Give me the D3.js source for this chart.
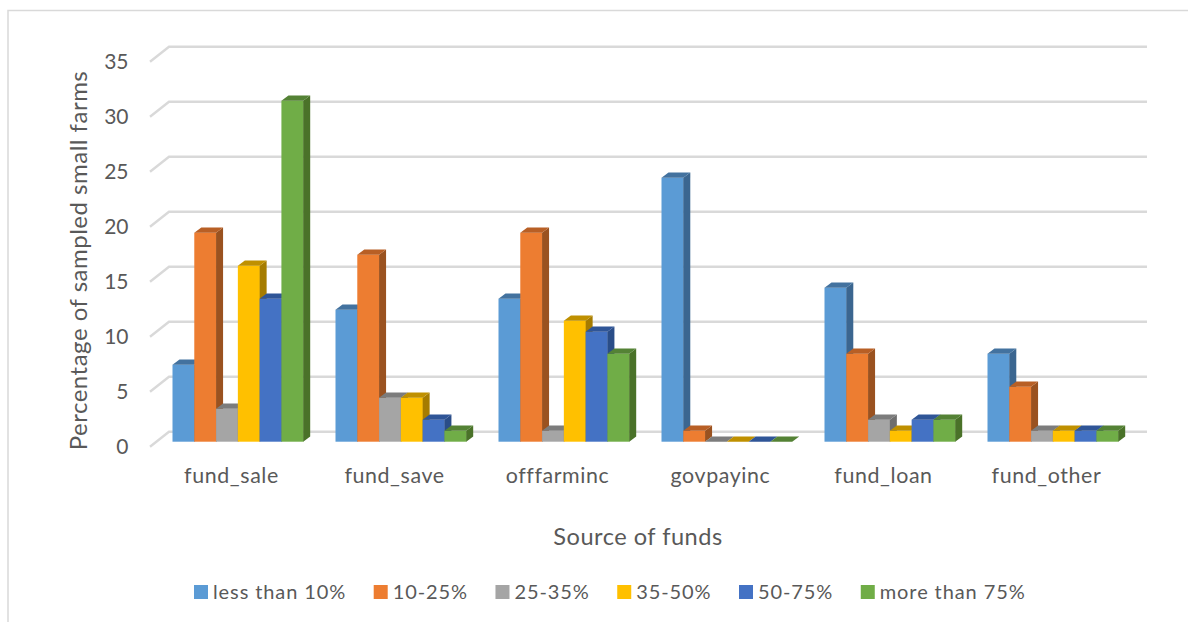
<!DOCTYPE html>
<html>
<head>
<meta charset="utf-8">
<script src="https://cdn.jsdelivr.net/npm/d3@7"></script>
<style>
	html, body { margin: 0; padding: 0; background: #fff; }
	text { font-family: Lato, "Open Sans", sans-serif; fill: #595959; }
	.tick line, .domain { display: none; }
</style>
</head>
<body>
<svg width="1188" height="622"></svg>
<script>
const categories = ["fund_sale", "fund_save", "offfarminc", "govpayinc", "fund_loan", "fund_other"]
const seriesNames = ["less than 10%", "10-25%", "25-35%", "35-50%", "50-75%", "more than 75%"]
const lessThan10 = [7, 12, 13, 24, 14, 8]
const from10to25 = [19, 17, 19, 1, 8, 5]
const from25to35 = [3, 4, 1, 0, 2, 1]
const from35to50 = [16, 4, 11, 0, 1, 1]
const from50to75 = [13, 2, 10, 0, 2, 1]
const moreThan75 = [31, 1, 8, 0, 2, 1]
const seriesValues = [lessThan10, from10to25, from25to35, from35to50, from50to75, moreThan75]
const yTicks = [0, 5, 10, 15, 20, 25, 30, 35]

const frontColors = ["#5b9bd5", "#ed7d31", "#a5a5a5", "#ffc000", "#4472c4", "#70ad47"]
const topColors = ["#43729f", "#b85f25", "#7c7c7c", "#bf9000", "#2f5597", "#548235"]
const sideColors = ["#3b6690", "#9a5220", "#6e6e6e", "#a67c00", "#2a4d88", "#4a7229"]

const svg = d3.select("svg")

// chart frame, only top and left edges are in the crop
svg.append("path")
	.attr("d", "M8,622V10.5H1188")
	.attr("fill", "none")
	.attr("stroke", "#d9d9d9")
	.attr("stroke-width", 1.5)

const frontLeft = 150, frontRight = 1128
const depthX = 19, depthY = 15 // floor depth
const barDepthX = 7, barDepthY = 5.3
const barInset = 22.5

const x = d3.scaleBand().domain(categories).range([frontLeft, frontRight])
const xBar = d3.scaleBand().domain(d3.range(seriesNames.length)).range([0, 130.7])
const y = d3.scaleLinear().domain([0, 35]).range([441.7, 56.7]) // front face of the bars

// gridlines run along the side wall and the back wall
svg.append("g").selectAll("path")
	.data(yTicks)
	.enter()
	.append("path")
	.attr("d", d => {
		const yFront = y(d) + 5
		return `M${frontLeft},${yFront}L${frontLeft + depthX},${yFront - depthY}H${frontRight + depthX}`
	})
	.attr("fill", "none")
	.attr("stroke", "#d9d9d9")
	.attr("stroke-width", 2.4)

const barData = categories.flatMap((cat, i) =>
	seriesValues.map((vals, s) => ({ cat: cat, s: s, value: vals[i] })))

const bars = svg.append("g").selectAll("g")
	.data(barData)
	.enter()
	.append("g")
	.attr("transform", d => `translate(${x(d.cat) + barInset + xBar(d.s)},0)`)

const w = xBar.bandwidth()
bars.append("rect")
	.attr("width", w + 0.3)
	.attr("y", d => y(d.value))
	.attr("height", d => y(0) - y(d.value))
	.attr("fill", d => frontColors[d.s])
bars.append("path")
	.attr("d", d => `M${w},${y(d.value)}l${barDepthX},${-barDepthY}V${y(0) - barDepthY}l${-barDepthX},${barDepthY}Z`)
	.attr("fill", d => sideColors[d.s])
bars.append("path")
	.attr("d", d => `M0,${y(d.value)}l${barDepthX},${-barDepthY}h${w}l${-barDepthX},${barDepthY}Z`)
	.attr("fill", d => topColors[d.s])

// axes
const yAxis = svg.append("g")
	.attr("transform", "translate(128.5,5.5)")
	.call(d3.axisLeft(y).tickValues(yTicks).tickSize(0).tickPadding(0))
yAxis.selectAll("text").attr("font-size", 21)

const xAxis = svg.append("g")
	.attr("transform", "translate(0,468)")
	.call(d3.axisBottom(x).tickSize(0).tickPadding(0))
xAxis.selectAll("text").attr("font-size", 21.4).attr("letter-spacing", 0.6)

svg.append("text")
	.attr("x", 638)
	.attr("y", 545)
	.attr("text-anchor", "middle")
	.attr("font-size", 23.6)
	.attr("letter-spacing", 0.5)
	.text("Source of funds")

svg.append("text")
	.attr("transform", "translate(87,260.5) rotate(-90)")
	.attr("text-anchor", "middle")
	.attr("font-size", 24)
	.attr("letter-spacing", 0.5)
	.text("Percentage of sampled small farms")

// legend
const legend = svg.append("g")
let legendX = 194
seriesNames.forEach((name, i) => {
	legend.append("rect")
		.attr("x", legendX)
		.attr("y", 585)
		.attr("width", 14)
		.attr("height", 14)
		.attr("fill", frontColors[i])
	const label = legend.append("text")
		.attr("x", legendX + 19)
		.attr("y", 598.5)
		.attr("font-size", 20)
		.attr("letter-spacing", 0.9)
		.text(name)
	legendX += 19 + label.node().getComputedTextLength() + 27.5
})
</script>
</body>
</html>
